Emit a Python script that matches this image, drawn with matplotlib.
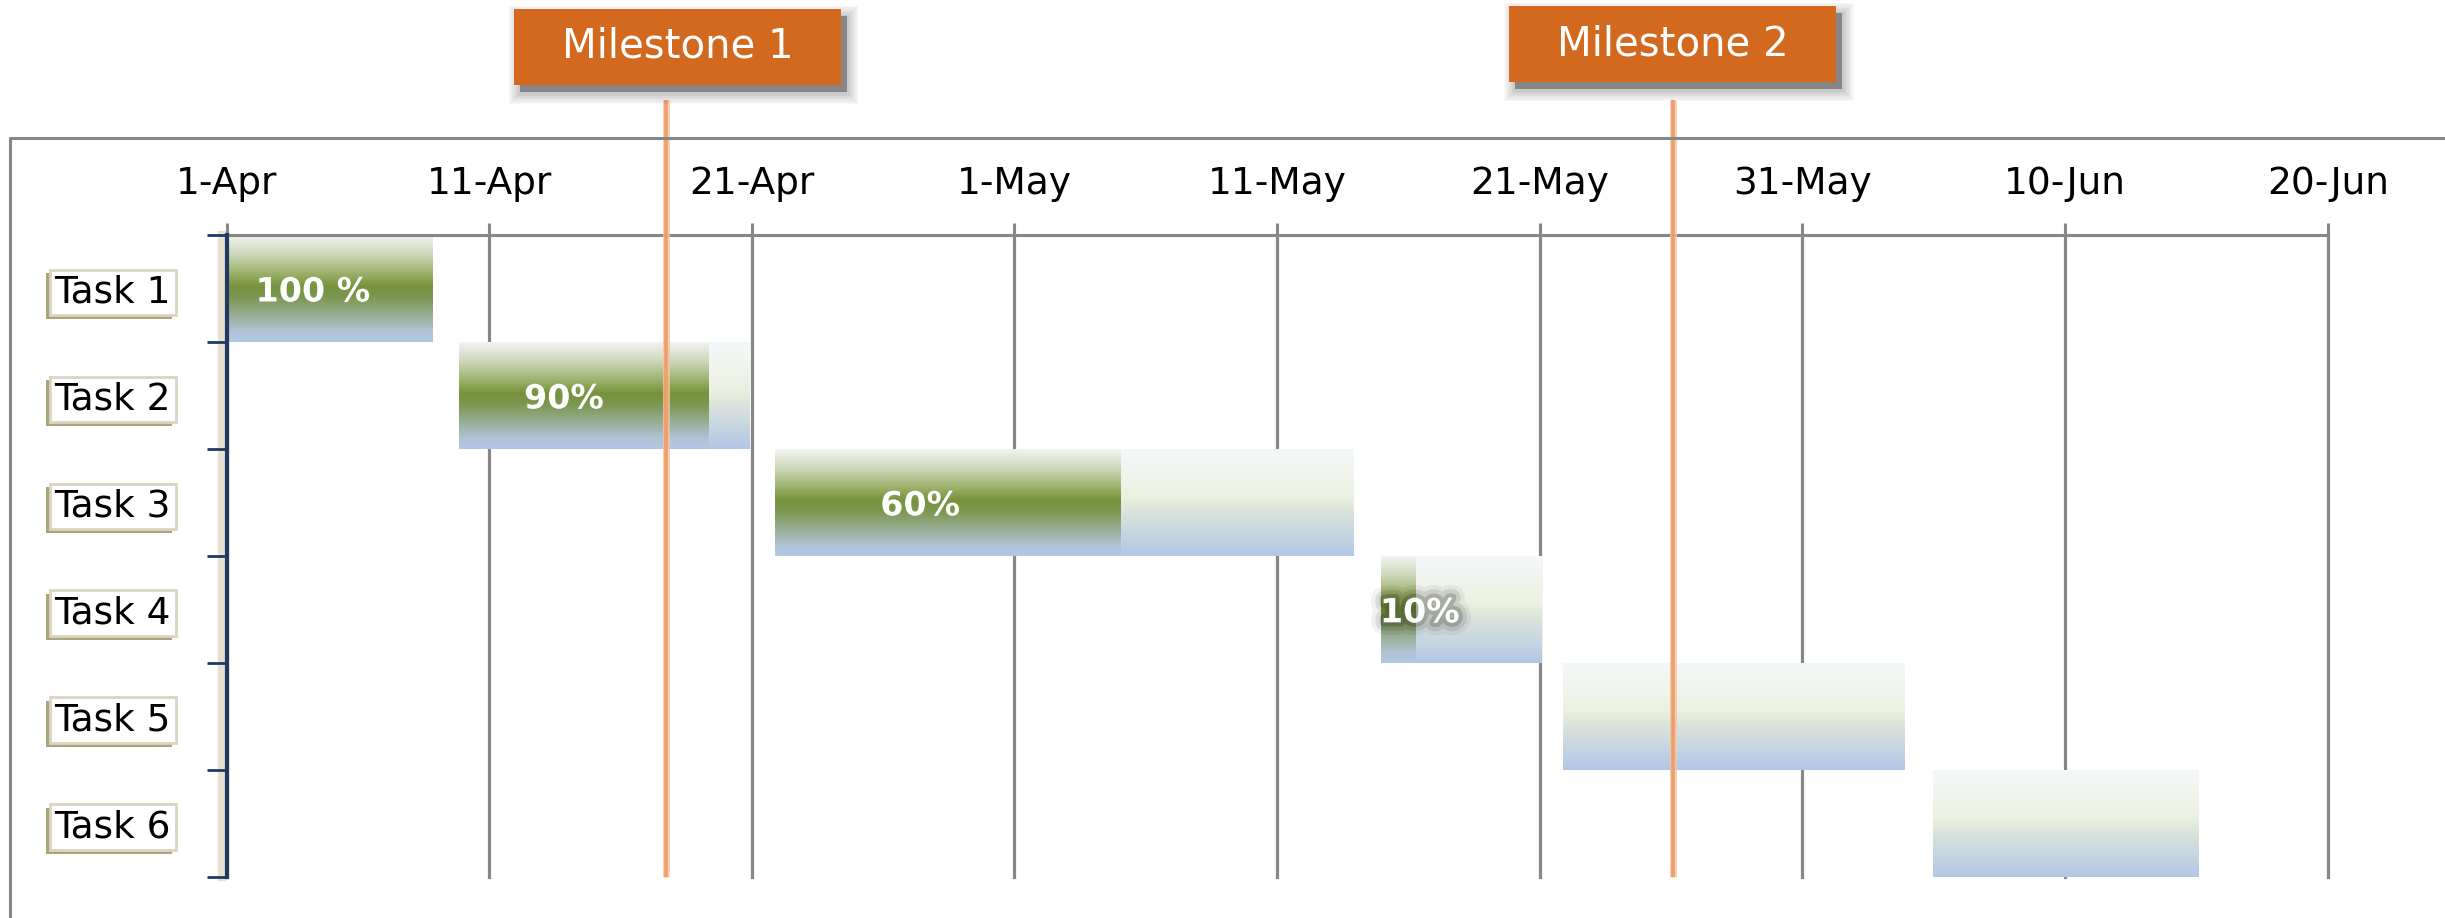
import numpy as np
import matplotlib
matplotlib.use("Agg")
import matplotlib.pyplot as plt
from matplotlib.colors import LinearSegmentedColormap
from matplotlib.patches import Rectangle
from matplotlib.lines import Line2D
import matplotlib.patheffects as pe

# ---------------- data ----------------
tasks = ["Task 1", "Task 2", "Task 3", "Task 4", "Task 5", "Task 6"]
start_day = [0.0, 8.85, 20.88, 43.95, 50.9, 64.96]      # days after 1-Apr
duration = [7.83, 11.08, 22.04, 6.09, 13.0, 10.09]      # days
done_days = [7.83, 9.52, 13.17, 1.33, 0.0, 0.0]         # completed part (days)
pct_labels = ["100 %", "90%", "60%", "10%", "", ""]
tick_days = [0, 10, 20, 30, 40, 50, 60, 70, 80]
tick_labels = ["1-Apr", "11-Apr", "21-Apr", "1-May", "11-May",
               "21-May", "31-May", "10-Jun", "20-Jun"]
milestone_day = [16.75, 55.07]
milestone_names = ["Milestone 1", "Milestone 2"]

# ---------------- style ----------------
W, H = 2445, 918
GRID = "#878787"
NAVY = "#1F3864"
ORANGE_BOX = "#D2691E"
FONT = "DejaVu Sans"
plt.rcParams["font.family"] = [FONT]

green_cmap = LinearSegmentedColormap.from_list("g", [
    (0.00, "#F2F4F1"), (0.18, "#CDD7B9"), (0.35, "#9DB36E"),
    (0.48, "#76923C"), (0.58, "#7C9750"), (0.75, "#98AE95"),
    (0.90, "#AFC3D4"), (1.00, "#B2C7E5")])
light_cmap = LinearSegmentedColormap.from_list("l", [
    (0.00, "#F5F8FA"), (0.25, "#F0F4EC"), (0.45, "#EBF1DF"),
    (0.60, "#D9E2DB"), (0.80, "#C5D5E2"), (1.00, "#B2C7E5")])

def grad(cmap):
    v = np.linspace(0, 1, 256).reshape(-1, 1)
    return cmap(v)

g_img = grad(green_cmap)
l_img = grad(light_cmap)

fig = plt.figure(figsize=(W / 100, H / 100), dpi=100)
fig.patch.set_facecolor("white")

# axes placement (pixels -> fraction)
ax_l, ax_r = 226.5, 2327.7
ax_t, ax_b = 235.0, 876.7
ax = fig.add_axes([ax_l / W, 1 - ax_b / H, (ax_r - ax_l) / W, (ax_b - ax_t) / H])
ax.set_facecolor("white")

n = len(tasks)

# bars (gradient filled)
for i in range(n):
    s, d, dn = start_day[i], duration[i], done_days[i]
    if dn > 0:
        ax.imshow(g_img, extent=[s, s + dn, i + 1, i], aspect="auto",
                  interpolation="bilinear", zorder=2)
    if d - dn > 0:
        ax.imshow(l_img, extent=[s + dn, s + d, i + 1, i], aspect="auto",
                  interpolation="bilinear", zorder=2)
    if pct_labels[i]:
        narrow = dn < 3
        effects = [pe.Normal()]
        xpos = s + 0.42 * dn
        if narrow:
            xpos = s + dn + 0.15
            effects = [pe.Stroke(linewidth=18, foreground="black", alpha=0.05),
                       pe.Stroke(linewidth=12, foreground="black", alpha=0.09),
                       pe.Stroke(linewidth=6, foreground="black", alpha=0.16),
                       pe.Normal()]
        ax.text(xpos, i + 0.5, pct_labels[i], color="white",
                fontsize=24, fontweight="bold", ha="center",
                va="center_baseline", zorder=4, path_effects=effects)

ax.set_xlim(0, 80)
ax.set_ylim(n, 0)

# x axis on top
ax.xaxis.tick_top()
ax.set_xticks(tick_days)
ax.set_xticklabels(tick_labels)
ax.tick_params(axis="x", which="major", length=8.6, width=2.2, color=GRID,
               labelsize=27, pad=15, labelcolor="black", top=True, bottom=False)
ax.grid(axis="x", color=GRID, linewidth=2.3, zorder=0)
ax.set_axisbelow(True)
for gl in ax.get_xgridlines():
    gl.set_clip_on(False)

# y axis: labels at centers, marks at row boundaries
ax.set_yticks(np.arange(n) + 0.5)
ax.set_yticklabels(tasks)
ax.set_yticks(np.arange(n + 1), minor=True)
ax.tick_params(axis="y", which="major", length=0, labelsize=27, pad=40,
               labelcolor="black")
ax.tick_params(axis="y", which="minor", length=14.5, width=2.0, color=NAVY)
for lbl in ax.get_yticklabels():
    lbl.set_bbox(dict(boxstyle="square,pad=0.13", facecolor="white",
                      edgecolor="#DAD5C0", linewidth=2.0))
    lbl.get_bbox_patch().set_path_effects(
        [pe.SimplePatchShadow(offset=(-2.4, -2.8), shadow_rgbFace="#A39B6E",
                              alpha=0.9), pe.Normal()])

for side in ["right", "bottom"]:
    ax.spines[side].set_visible(False)
ax.spines["top"].set_color(GRID)
ax.spines["top"].set_linewidth(2.2)
ax.spines["left"].set_color(NAVY)
ax.spines["left"].set_linewidth(3.0)
ax.spines["left"].set_zorder(6)
ax.spines["left"].set_path_effects(
    [pe.Stroke(offset=(-3, 0), linewidth=6, foreground="#E6E1CF"), pe.Normal()])
ax.yaxis.set_zorder(7)
ax.xaxis.set_zorder(1)

# milestone lines (extend above the axes)
y_top_line = (100 - ax_t) / ((ax_b - ax_t) / n)
for md in milestone_day:
    ax.plot([md, md], [n, y_top_line], color="#F7C4A0", lw=5.0, alpha=0.8,
            clip_on=False, zorder=7, solid_capstyle="butt")
    ax.plot([md, md], [n, y_top_line], color="#EE9A64", lw=2.6, alpha=0.9,
            clip_on=False, zorder=7, solid_capstyle="butt")

# outer frame
fr_x = 10 / W
fr_y = 1 - 138 / H
fig.add_artist(Line2D([fr_x, fr_x, 1.0], [0.0, fr_y, fr_y],
                      transform=fig.transFigure, color=GRID, lw=2.2))

# milestone boxes
fig.canvas.draw()
box_w, box_h = 327, 76
box_top = [9, 6]
box_dx = [11, 0]
for k, md in enumerate(milestone_day):
    px = ax.transData.transform((md, 0))[0] + box_dx[k]
    x0 = (px - box_w / 2) / W
    y0 = 1 - (box_top[k] + box_h) / H
    bw, bh = box_w / W, box_h / H
    # soft shadow
    for j in range(7):
        ex = (7 - j) * 1.6
        fig.add_artist(Rectangle(((px - box_w / 2 + 6 - ex) / W,
                                  1 - (box_top[k] + box_h + 8 + ex) / H),
                                 (box_w + 2 * ex) / W, (box_h + 2 * ex) / H,
                                 transform=fig.transFigure, facecolor="black",
                                 edgecolor="none", alpha=0.03, zorder=8))
    fig.add_artist(Rectangle(((px - box_w / 2 + 6) / W, 1 - (box_top[k] + box_h + 7) / H),
                             bw, bh, transform=fig.transFigure,
                             facecolor="#707070", edgecolor="none", alpha=0.75,
                             zorder=9))
    fig.add_artist(Rectangle((x0, y0), bw, bh, transform=fig.transFigure,
                             facecolor=ORANGE_BOX, edgecolor="none", zorder=10))
    fig.text(px / W, 1 - (box_top[k] + box_h / 2) / H, milestone_names[k],
             color="white", fontsize=29, ha="center", va="center", zorder=11)

fig.savefig("out.png", dpi=100, facecolor="white")
